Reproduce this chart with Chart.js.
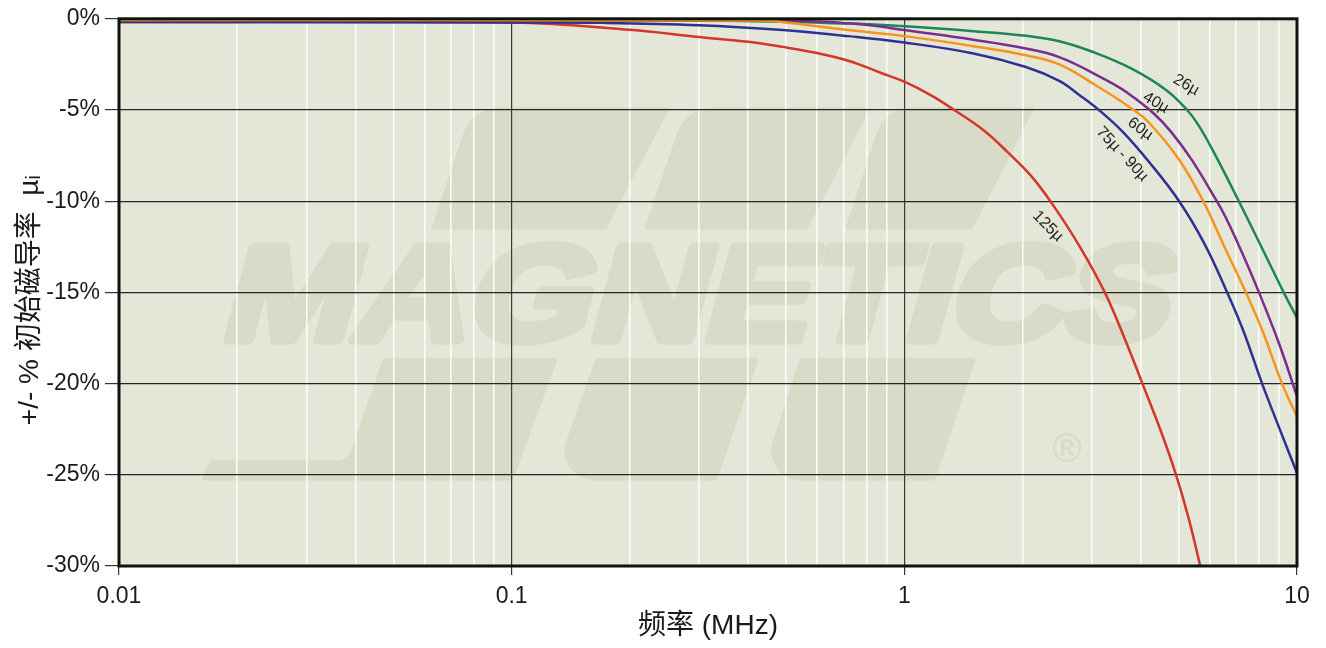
<!DOCTYPE html>
<html lang="zh">
<head>
    <meta charset="UTF-8">
    <title>初始磁导率 vs 频率</title>
    <script src="https://cdn.jsdelivr.net/npm/chart.js"></script>
    <style>
        html, body { margin: 0; padding: 0; background: #ffffff; }
        canvas { display: block; }
    </style>
</head>
<body>
    <canvas id="permChart" width="1326" height="648"></canvas>

    <script>
        // ---- data (frequency in MHz, change in %) ----
        const freq26 = [0.01, 0.3, 0.72, 0.98, 1.5, 2.04, 2.48, 3.05, 3.78, 4.64, 5.25, 5.6, 6.1, 7.11, 8.2, 9.2, 10];
        const perm26 = [-0.08, -0.1, -0.26, -0.4, -0.68, -0.93, -1.23, -1.85, -2.72, -3.9, -5, -5.8, -7.2, -10, -12.7, -14.9, -16.4];

        const freq40 = [0.01, 0.4, 0.6, 0.72, 0.85, 1, 1.5, 2.04, 2.48, 3.1, 3.78, 4.78, 6.25, 7.1, 8, 9, 10];
        const perm40 = [-0.08, -0.1, -0.15, -0.25, -0.4, -0.62, -1.15, -1.63, -2.1, -3.1, -4.2, -6.2, -10, -12.4, -15, -17.8, -20.7];

        const freq60 = [0.01, 0.43, 0.5, 0.65, 0.72, 1, 1.5, 2.04, 2.48, 3.1, 3.78, 4.2, 5, 5.77, 6.5, 7.41, 8.2, 9.16, 10];
        const perm60 = [-0.06, -0.1, -0.2, -0.5, -0.62, -0.95, -1.5, -2.0, -2.5, -3.7, -4.9, -5.7, -7.7, -10, -12.4, -15, -17.2, -20, -21.8];

        const freq75 = [0.01, 0.1, 0.17, 0.3, 0.49, 0.72, 1, 1.5, 2.04, 2.48, 2.8, 3.13, 3.6, 4.2, 5.01, 5.8, 6.64, 7.3, 8.15, 9, 10];
        const perm75 = [-0.18, -0.2, -0.22, -0.35, -0.62, -0.95, -1.3, -1.9, -2.64, -3.4, -4.2, -5, -6.2, -7.85, -10, -12.3, -15, -17.1, -20, -22.4, -24.9];

        const freq125 = [0.01, 0.1, 0.2, 0.3, 0.4, 0.49, 0.59, 0.72, 0.88, 1, 1.17, 1.34, 1.6, 1.83, 2.1, 2.39, 2.8, 3.24, 3.65, 4.04, 4.5, 4.92, 5.3, 5.67];
        const perm125 = [-0.18, -0.2, -0.6, -1.0, -1.26, -1.54, -1.85, -2.3, -3.0, -3.45, -4.2, -5, -6.15, -7.3, -8.6, -10.2, -12.5, -15, -17.6, -20, -22.6, -25, -27.4, -30];

        // axis ticks
        const xMajorTicks = [0.01, 0.1, 1, 10];
        const xTickLabels = ['0.01', '0.1', '1', '10'];
        const yTicks = [-30, -25, -20, -15, -10, -5, 0];

        // curve captions, anchored in data units
        const captionText = ['26µ', '40µ', '60µ', '75µ - 90µ', '125µ'];
        const captionFreq = [5.22, 4.37, 3.99, 3.59, 2.32];
        const captionPerm = [-3.63, -4.6, -6.04, -7.42, -11.37];
        const captionAngle = [30, 30, 36, 47, 45];

        const FONT = "'Liberation Sans', Arial, 'Noto Sans CJK SC', sans-serif";

        // all grid positions 1..9 x decade
        const xGridTicks = [];
        xMajorTicks.forEach((d, i) => {
            if (i === xMajorTicks.length - 1) { xGridTicks.push({ value: d, major: true }); return; }
            for (let m = 1; m <= 9; m++) xGridTicks.push({ value: m * d, major: m === 1 });
        });

        function pts(fs, vs) {
            return fs.map((f, i) => ({ x: f, y: vs[i] }));
        }

        // rounded polygon helper for the watermark
        function roundPoly(ctx, p, r) {
            const n = p.length;
            const mid = [(p[0][0] + p[n - 1][0]) / 2, (p[0][1] + p[n - 1][1]) / 2];
            ctx.beginPath();
            ctx.moveTo(mid[0], mid[1]);
            for (let i = 0; i < n; i++) {
                const a = p[i], b = p[(i + 1) % n];
                ctx.arcTo(a[0], a[1], b[0], b[1], r[i] || 1);
            }
            ctx.closePath();
            ctx.fill();
        }

        // background + faint MAGNETICS logo behind the grid
        const backgroundPlugin = {
            id: 'plotBackground',
            beforeDraw(chart) {
                const { ctx, chartArea: a } = chart;
                ctx.save();
                ctx.fillStyle = '#e4e6d8';
                ctx.fillRect(a.left, a.top, a.right - a.left, a.bottom - a.top);
                ctx.beginPath();
                ctx.rect(a.left, a.top, a.right - a.left, a.bottom - a.top);
                ctx.clip();
                ctx.translate(a.left, a.top);
                ctx.scale((a.right - a.left) / 1178, (a.bottom - a.top) / 550);
                ctx.fillStyle = '#d9dbc8';
                ctx.strokeStyle = '#d9dbc8';

                // upper bars
                roundPoly(ctx, [[353, 89], [551, 89], [487, 212], [312, 212]], [38, 2, 2, 2]);
                roundPoly(ctx, [[567, 89], [752, 89], [688, 212], [525, 212]], [38, 2, 2, 2]);
                roundPoly(ctx, [[766, 89], [916, 89], [853, 212], [726, 212]], [38, 2, 2, 2]);
                // lower bars
                roundPoly(ctx, [[264, 341], [439, 341], [394, 464], [82, 464], [91, 444], [229, 444]], [2, 2, 2, 2, 2, 16]);
                roundPoly(ctx, [[477, 341], [640, 341], [598, 464], [433, 464]], [2, 2, 2, 30]);
                roundPoly(ctx, [[681, 341], [857, 341], [816, 464], [641, 464]], [2, 2, 2, 30]);

                // lettering (heavy, slanted)
                ctx.save();
                ctx.translate(99, 323);
                ctx.transform(1, 0, -0.27, 1, 0, 0);
                ctx.font = "bold 136px " + FONT;
                const w = ctx.measureText('MAGNETICS').width;
                ctx.scale(945 / w, 1);
                ctx.textBaseline = 'alphabetic';
                ctx.lineWidth = 9;
                ctx.lineJoin = 'round';
                ctx.fillText('MAGNETICS', 0, 0);
                ctx.strokeText('MAGNETICS', 0, 0);
                ctx.restore();

                ctx.font = "bold 40px " + FONT;
                ctx.textAlign = 'center';
                ctx.textBaseline = 'middle';
                ctx.fillText('®', 948, 434);
                ctx.restore();
            }
        };

        // frame + curve captions
        const framePlugin = {
            id: 'frameAndCaptions',
            afterDatasetsDraw(chart) {
                const { ctx, chartArea: a, scales } = chart;
                ctx.save();
                ctx.font = '16px ' + FONT;
                ctx.fillStyle = '#1e1e1e';
                ctx.textAlign = 'center';
                ctx.textBaseline = 'middle';
                captionText.forEach((t, i) => {
                    const px = scales.x.getPixelForValue(captionFreq[i]);
                    const py = scales.y.getPixelForValue(captionPerm[i]);
                    ctx.save();
                    ctx.translate(px, py);
                    ctx.rotate(captionAngle[i] * Math.PI / 180);
                    ctx.fillText(t, 0, 0);
                    ctx.restore();
                });
                ctx.strokeStyle = '#0b150b';
                ctx.lineWidth = 3;
                ctx.strokeRect(a.left, a.top, a.right - a.left, a.bottom - a.top);
                ctx.restore();
            }
        };

        function line(data, color, order) {
            return {
                data: data,
                borderColor: color,
                borderWidth: 2.5,
                pointRadius: 0,
                fill: false,
                tension: 0.4,
                order: order
            };
        }

        new Chart(document.getElementById('permChart').getContext('2d'), {
            type: 'line',
            data: {
                datasets: [
                    line(pts(freq60, perm60), '#f7941d', 1),
                    line(pts(freq40, perm40), '#7b2d8b', 2),
                    line(pts(freq26, perm26), '#1b8758', 3),
                    line(pts(freq75, perm75), '#2e3192', 4),
                    line(pts(freq125, perm125), '#d2372a', 5)
                ]
            },
            options: {
                responsive: false,
                animation: false,
                layout: { padding: { top: 16, right: 29, left: 0, bottom: 0 } },
                plugins: {
                    legend: { display: false },
                    tooltip: { enabled: false }
                },
                scales: {
                    x: {
                        type: 'logarithmic',
                        min: 0.01,
                        max: 10,
                        afterBuildTicks: s => { s.ticks = xGridTicks.map(t => ({ value: t.value, major: t.major })); },
                        afterFit: s => { s.height = 82; },
                        border: { display: false },
                        grid: {
                            color: c => (c.tick && c.tick.major) ? '#3a3a3a' : 'rgba(255,255,255,0.95)',
                            lineWidth: c => (c.tick && c.tick.major) ? 1.2 : 1.5,
                            tickColor: c => (c.tick && c.tick.major) ? '#333333' : 'rgba(0,0,0,0)',
                            tickLength: 9
                        },
                        ticks: {
                            autoSkip: false,
                            maxRotation: 0,
                            padding: 8,
                            color: '#1a1a1a',
                            font: { family: FONT, size: 23 },
                            callback: function (v, i, ticks) {
                                const t = ticks[i];
                                if (!t.major) return '';
                                const k = xMajorTicks.findIndex(m => Math.abs(m - v) < m * 1e-6);
                                return k >= 0 ? xTickLabels[k] : '';
                            }
                        },
                        title: {
                            display: true,
                            text: '频率 (MHz)',
                            color: '#1a1a1a',
                            font: { family: FONT, size: 28 },
                            padding: { top: 0, bottom: 5 }
                        }
                    },
                    y: {
                        min: yTicks[0],
                        max: yTicks[yTicks.length - 1],
                        afterBuildTicks: s => { s.ticks = yTicks.map(v => ({ value: v })); },
                        afterFit: s => { s.width = 119; },
                        border: { display: false },
                        grid: { color: '#262626', lineWidth: 1.2, tickColor: '#333333', tickLength: 14 },
                        ticks: {
                            padding: 5,
                            color: '#1a1a1a',
                            font: { family: FONT, size: 23 },
                            callback: v => v + '%'
                        },
                        title: {
                            display: true,
                            text: '+/- % 初始磁导率  µᵢ\u00a0\u00a0',
                            color: '#1a1a1a',
                            font: { family: FONT, size: 28 },
                            padding: { top: 13, bottom: 0 }
                        }
                    }
                }
            },
            plugins: [backgroundPlugin, framePlugin]
        });
    </script>
</body>
</html>
